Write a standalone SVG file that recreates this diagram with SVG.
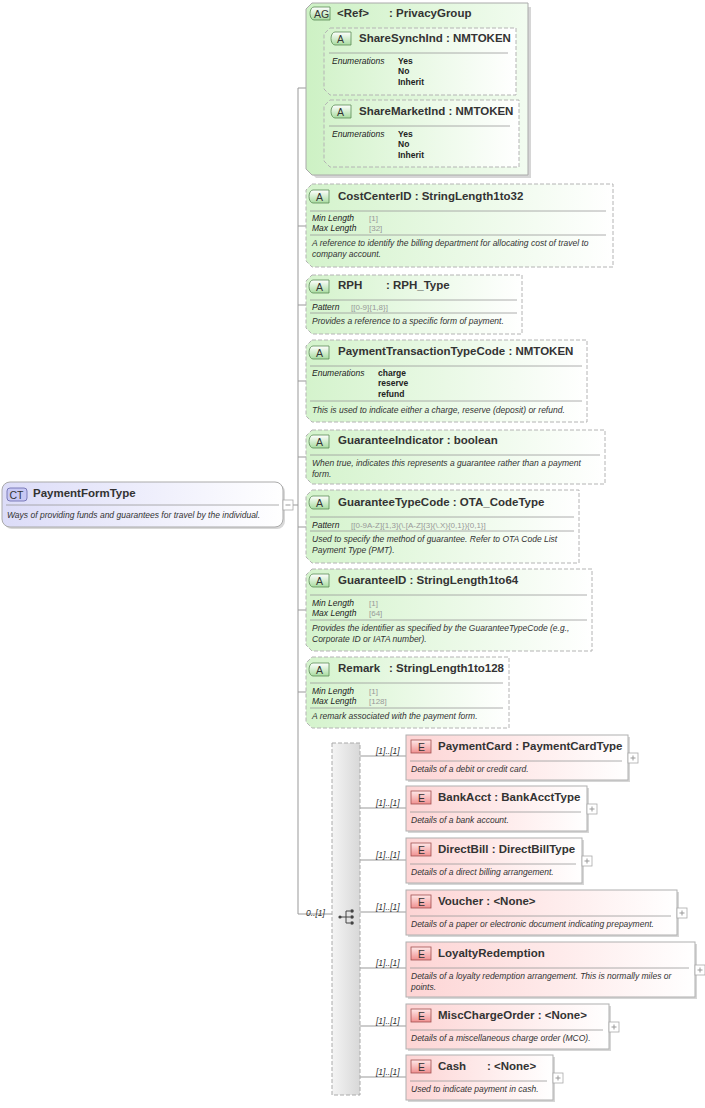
<svg xmlns="http://www.w3.org/2000/svg" width="705" height="1108" viewBox="0 0 705 1108">
<defs>
<linearGradient id="ga" x1="0" y1="0" x2="1" y2="0"><stop offset="0" stop-color="#d4f3cc"/><stop offset="1" stop-color="#ffffff"/></linearGradient>
<linearGradient id="gag" x1="0" y1="0" x2="1" y2="0"><stop offset="0" stop-color="#cdf1c4"/><stop offset="1" stop-color="#f2fcf0"/></linearGradient>
<linearGradient id="ge" x1="0" y1="0" x2="1" y2="0"><stop offset="0" stop-color="#fdd4d4"/><stop offset="1" stop-color="#ffffff"/></linearGradient>
<linearGradient id="gct" x1="0" y1="0" x2="1" y2="0"><stop offset="0" stop-color="#dcdcf8"/><stop offset="1" stop-color="#ffffff"/></linearGradient>
<linearGradient id="gch" x1="0" y1="0" x2="1" y2="0"><stop offset="0" stop-color="#f4f4f4"/><stop offset="1" stop-color="#d8d8d8"/></linearGradient>
<linearGradient id="gbA" x1="0" y1="0" x2="0" y2="1"><stop offset="0" stop-color="#ffffff"/><stop offset="1" stop-color="#a8dca0"/></linearGradient>
<linearGradient id="gbE" x1="0" y1="0" x2="0" y2="1"><stop offset="0" stop-color="#ffe8e8"/><stop offset="1" stop-color="#f09090"/></linearGradient>
</defs>
<style>
text{font-family:"Liberation Sans",Arial,sans-serif;fill:#222}
.t{font-size:11.5px;font-weight:bold;fill:#333}
.l{font-size:8.5px;font-style:italic}
.v{font-size:8px;fill:#999}
.en{font-size:8.5px;font-weight:bold;fill:#222}
.d{font-size:8.5px;font-style:italic;fill:#333}
.m{font-size:8.5px;font-style:italic;fill:#333}
.ab{fill:url(#ga);stroke:#b4b4b4;stroke-dasharray:4,2;stroke-width:1}
.sep{stroke:#999;stroke-width:0.8}
.c{stroke:#999;stroke-width:1;fill:none}
.eb{fill:url(#ge);stroke:#b0b0b0;stroke-width:1}
.sh{fill:#d6d6d6}
.bA{fill:url(#gbA);stroke:#5a8a55;stroke-width:0.8}
.bE{fill:url(#gbE);stroke:#a05050;stroke-width:0.8}
.bt{font-size:10.5px;fill:#333}
.x{fill:#fff;stroke:#aaa;stroke-width:0.8}
</style>

<g id="connectors">
<path class="c" d="M293,505 H298 M298,88 V914 M298,88 H306 M298,226 H306 M298,305 H306 M298,381 H306 M298,457 H306 M298,527 H306 M298,610 H306 M298,692 H306 M298,914 H332"/>
<path class="c" d="M324,60 H315 V133 H324 M306,95 H315"/>
<path class="c" d="M360,756 H406 M360,808 H406 M360,860 H406 M360,912 H406 M360,968 H406 M360,1026 H406 M360,1077 H406"/>
</g>
<g id="lbls">
<text class="m" x="306" y="916">0..[1]</text>
<text class="m" x="376" y="754">[1]..[1]</text>
<text class="m" x="376" y="806">[1]..[1]</text>
<text class="m" x="376" y="858">[1]..[1]</text>
<text class="m" x="376" y="910">[1]..[1]</text>
<text class="m" x="376" y="966">[1]..[1]</text>
<text class="m" x="376" y="1024">[1]..[1]</text>
<text class="m" x="376" y="1075">[1]..[1]</text>
</g>

<g id="PaymentFormType">
<rect x="4" y="484" width="281" height="45" rx="8" fill="#d8d8d8"/>
<rect x="2" y="482" width="281" height="45" rx="8" fill="url(#gct)" stroke="#aaa"/>
<rect x="7" y="488" width="20" height="13" rx="3" fill="#c8c8f4" stroke="#6666aa" stroke-width="0.8"/>
<text class="bt" x="9.5" y="498.5">CT</text>
<text class="t" x="33" y="497">PaymentFormType</text>
<line class="sep" x1="6" y1="505" x2="279" y2="505"/>
<text class="d" x="7" y="518">Ways of providing funds and guarantees for travel by the individual.</text>
<rect class="x" x="283" y="500" width="10" height="10"/><path d="M285.5,505 H290.5" stroke="#999"/>
</g>

<g id="PrivacyGroup">
<path class="sh" d="M310,7 L531,7 L531,178 L316,178 L310,172 Z"/>
<path d="M312,3 L528,3 L528,175 L312,175 L306,169 L306,9 Z" fill="url(#gag)" stroke="#aaa"/>
<path d="M314,7 h16 v13 h-16 a4,6.5 0 0 1 0,-13 Z" class="bA"/>
<text class="bt" x="314" y="17.5">AG</text>
<text class="t" x="337" y="17">&lt;Ref&gt;</text><text class="t" x="389" y="17">: PrivacyGroup</text>
<g id="ShareSynchInd">
<path class="ab" d="M330,28 L516,28 L516,95 L330,95 L324,89 L324,34 Z"/>
<path class="bA" d="M335,32 h16 v13 h-16 a4,6.5 0 0 1 0,-13 Z"/><text class="bt" x="337" y="42.5">A</text>
<text class="t" x="359" y="42">ShareSynchInd : NMTOKEN</text>
<line class="sep" x1="329" y1="53" x2="508" y2="53"/>
<text class="l" x="332" y="64">Enumerations</text>
<text class="en" x="398" y="64">Yes</text><text class="en" x="398" y="74">No</text><text class="en" x="398" y="85">Inherit</text>
</g>
<g id="ShareMarketInd">
<path class="ab" d="M330,100 L519,100 L519,167 L330,167 L324,161 L324,106 Z"/>
<path class="bA" d="M335,105 h16 v13 h-16 a4,6.5 0 0 1 0,-13 Z"/><text class="bt" x="337" y="115.5">A</text>
<text class="t" x="359" y="115">ShareMarketInd : NMTOKEN</text>
<line class="sep" x1="329" y1="126" x2="510" y2="126"/>
<text class="l" x="332" y="137">Enumerations</text>
<text class="en" x="398" y="137">Yes</text><text class="en" x="398" y="147">No</text><text class="en" x="398" y="158">Inherit</text>
</g>
</g>

<g id="CostCenterID">
<path class="ab" d="M312,184 L613,184 L613,267 L312,267 L306,261 L306,190 Z"/>
<path class="bA" d="M313,190 h16 v13 h-16 a4,6.5 0 0 1 0,-13 Z"/><text class="bt" x="316" y="200.5">A</text>
<text class="t" x="338" y="200">CostCenterID : StringLength1to32</text>
<line class="sep" x1="310" y1="211" x2="606" y2="211"/>
<text class="l" x="312" y="221">Min Length</text><text class="v" x="369" y="221">[1]</text>
<text class="l" x="312" y="231">Max Length</text><text class="v" x="369" y="231">[32]</text>
<line class="sep" x1="310" y1="235" x2="606" y2="235"/>
<text class="d" x="312" y="246">A reference to identify the billing department for allocating cost of travel to</text>
<text class="d" x="312" y="257">company account.</text>
</g>

<g id="RPH">
<path class="ab" d="M312,275 L522,275 L522,334 L312,334 L306,328 L306,281 Z"/>
<path class="bA" d="M313,280 h16 v13 h-16 a4,6.5 0 0 1 0,-13 Z"/><text class="bt" x="316" y="290.5">A</text>
<text class="t" x="338" y="289">RPH</text><text class="t" x="386" y="289">: RPH_Type</text>
<line class="sep" x1="310" y1="300" x2="517" y2="300"/>
<text class="l" x="312" y="310">Pattern</text><text class="v" x="351" y="310">[[0-9]{1,8}]</text>
<line class="sep" x1="310" y1="313" x2="517" y2="313"/>
<text class="d" x="312" y="324">Provides a reference to a specific form of payment.</text>
</g>

<g id="PaymentTransactionTypeCode">
<path class="ab" d="M312,340 L587,340 L587,422 L312,422 L306,416 L306,346 Z"/>
<path class="bA" d="M313,346 h16 v13 h-16 a4,6.5 0 0 1 0,-13 Z"/><text class="bt" x="316" y="356.5">A</text>
<text class="t" x="338" y="355">PaymentTransactionTypeCode : NMTOKEN</text>
<line class="sep" x1="310" y1="366" x2="582" y2="366"/>
<text class="l" x="312" y="376">Enumerations</text>
<text class="en" x="378" y="376">charge</text><text class="en" x="378" y="386">reserve</text><text class="en" x="378" y="397">refund</text>
<line class="sep" x1="310" y1="401" x2="582" y2="401"/>
<text class="d" x="312" y="413">This is used to indicate either a charge, reserve (deposit) or refund.</text>
</g>

<g id="GuaranteeIndicator">
<path class="ab" d="M312,430 L605,430 L605,484 L312,484 L306,478 L306,436 Z"/>
<path class="bA" d="M313,435 h16 v13 h-16 a4,6.5 0 0 1 0,-13 Z"/><text class="bt" x="316" y="445.5">A</text>
<text class="t" x="338" y="444">GuaranteeIndicator : boolean</text>
<line class="sep" x1="310" y1="455" x2="600" y2="455"/>
<text class="d" x="312" y="466">When true, indicates this represents a guarantee rather than a payment</text>
<text class="d" x="312" y="477">form.</text>
</g>

<g id="GuaranteeTypeCode">
<path class="ab" d="M312,490 L579,490 L579,563 L312,563 L306,557 L306,496 Z"/>
<path class="bA" d="M313,496 h16 v13 h-16 a4,6.5 0 0 1 0,-13 Z"/><text class="bt" x="316" y="506.5">A</text>
<text class="t" x="338" y="506">GuaranteeTypeCode : OTA_CodeType</text>
<line class="sep" x1="310" y1="517" x2="574" y2="517"/>
<text class="l" x="312" y="528">Pattern</text><text class="v" x="351" y="528">[[0-9A-Z]{1,3}(\.[A-Z]{3}(\.X){0,1}){0,1}]</text>
<line class="sep" x1="310" y1="531" x2="574" y2="531"/>
<text class="d" x="312" y="542">Used to specify the method of guarantee. Refer to OTA Code List</text>
<text class="d" x="312" y="553">Payment Type (PMT).</text>
</g>

<g id="GuaranteeID">
<path class="ab" d="M312,569 L592,569 L592,651 L312,651 L306,645 L306,575 Z"/>
<path class="bA" d="M313,574 h16 v13 h-16 a4,6.5 0 0 1 0,-13 Z"/><text class="bt" x="316" y="584.5">A</text>
<text class="t" x="338" y="584">GuaranteeID : StringLength1to64</text>
<line class="sep" x1="310" y1="595" x2="587" y2="595"/>
<text class="l" x="312" y="606">Min Length</text><text class="v" x="369" y="606">[1]</text>
<text class="l" x="312" y="616">Max Length</text><text class="v" x="369" y="616">[64]</text>
<line class="sep" x1="310" y1="620" x2="587" y2="620"/>
<text class="d" x="312" y="631">Provides the identifier as specified by the GuaranteeTypeCode (e.g.,</text>
<text class="d" x="312" y="642">Corporate ID or IATA number).</text>
</g>

<g id="Remark">
<path class="ab" d="M312,657 L509,657 L509,728 L312,728 L306,722 L306,663 Z"/>
<path class="bA" d="M313,663 h16 v13 h-16 a4,6.5 0 0 1 0,-13 Z"/><text class="bt" x="316" y="673.5">A</text>
<text class="t" x="338" y="672">Remark</text><text class="t" x="389" y="672">: StringLength1to128</text>
<line class="sep" x1="310" y1="683" x2="503" y2="683"/>
<text class="l" x="312" y="694">Min Length</text><text class="v" x="369" y="694">[1]</text>
<text class="l" x="312" y="704">Max Length</text><text class="v" x="369" y="704">[128]</text>
<line class="sep" x1="310" y1="708" x2="503" y2="708"/>
<text class="d" x="312" y="719">A remark associated with the payment form.</text>
</g>

<g id="choice">
<rect x="332" y="743" width="28" height="352" fill="url(#gch)" stroke="#aaa" stroke-dasharray="4,2"/>
<path d="M340,917 H346 M346,911 V923 M346,911 H350 M346,917 H350 M346,923 H350" stroke="#444" fill="none"/>
<circle cx="340" cy="917" r="1.6" fill="#444"/><circle cx="352" cy="911" r="1.8" fill="#444"/><circle cx="352" cy="917" r="1.8" fill="#444"/><circle cx="352" cy="923" r="1.8" fill="#444"/>
</g>

<g id="PaymentCard">
<rect class="sh" x="408" y="737" width="222" height="45"/>
<rect class="eb" x="406" y="735" width="222" height="45"/>
<rect class="bE" x="411" y="740" width="20" height="13"/><text class="bt" x="418" y="750.5">E</text>
<text class="t" x="438" y="750">PaymentCard : PaymentCardType</text>
<line class="sep" x1="410" y1="761" x2="622" y2="761"/>
<text class="d" x="411" y="772">Details of a debit or credit card.</text>
<rect class="x" x="628" y="753" width="10" height="10"/><path d="M630.5,758 H635.5 M633,755.5 V760.5" stroke="#999"/>
</g>
<g id="BankAcct">
<rect class="sh" x="408" y="788" width="181" height="45"/>
<rect class="eb" x="406" y="786" width="181" height="45"/>
<rect class="bE" x="411" y="791" width="20" height="13"/><text class="bt" x="418" y="801.5">E</text>
<text class="t" x="438" y="801">BankAcct : BankAcctType</text>
<line class="sep" x1="410" y1="812" x2="581" y2="812"/>
<text class="d" x="411" y="823">Details of a bank account.</text>
<rect class="x" x="587" y="804" width="10" height="10"/><path d="M589.5,809 H594.5 M592,806.5 V811.5" stroke="#999"/>
</g>
<g id="DirectBill">
<rect class="sh" x="408" y="840" width="176" height="45"/>
<rect class="eb" x="406" y="838" width="176" height="45"/>
<rect class="bE" x="411" y="843" width="20" height="13"/><text class="bt" x="418" y="853.5">E</text>
<text class="t" x="438" y="853">DirectBill : DirectBillType</text>
<line class="sep" x1="410" y1="864" x2="576" y2="864"/>
<text class="d" x="411" y="875">Details of a direct billing arrangement.</text>
<rect class="x" x="582" y="856" width="10" height="10"/><path d="M584.5,861 H589.5 M587,858.5 V863.5" stroke="#999"/>
</g>
<g id="Voucher">
<rect class="sh" x="408" y="892" width="271" height="45"/>
<rect class="eb" x="406" y="890" width="271" height="45"/>
<rect class="bE" x="411" y="895" width="20" height="13"/><text class="bt" x="418" y="905.5">E</text>
<text class="t" x="438" y="905">Voucher : &lt;None&gt;</text>
<line class="sep" x1="410" y1="916" x2="671" y2="916"/>
<text class="d" x="411" y="927">Details of a paper or electronic document indicating prepayment.</text>
<rect class="x" x="677" y="908" width="10" height="10"/><path d="M679.5,913 H684.5 M682,910.5 V915.5" stroke="#999"/>
</g>
<g id="LoyaltyRedemption">
<rect class="sh" x="408" y="944" width="289" height="55"/>
<rect class="eb" x="406" y="942" width="289" height="55"/>
<rect class="bE" x="411" y="947" width="20" height="13"/><text class="bt" x="418" y="957.5">E</text>
<text class="t" x="438" y="957">LoyaltyRedemption</text>
<line class="sep" x1="410" y1="968" x2="689" y2="968"/>
<text class="d" x="411" y="979">Details of a loyalty redemption arrangement. This is normally miles or</text>
<text class="d" x="411" y="990">points.</text>
<rect class="x" x="695" y="965" width="10" height="10"/><path d="M697.5,970 H702.5 M700,967.5 V972.5" stroke="#999"/>
</g>
<g id="MiscChargeOrder">
<rect class="sh" x="408" y="1006" width="203" height="45"/>
<rect class="eb" x="406" y="1004" width="203" height="45"/>
<rect class="bE" x="411" y="1009" width="20" height="13"/><text class="bt" x="418" y="1019.5">E</text>
<text class="t" x="438" y="1019">MiscChargeOrder : &lt;None&gt;</text>
<line class="sep" x1="410" y1="1030" x2="603" y2="1030"/>
<text class="d" x="411" y="1041">Details of a miscellaneous charge order (MCO).</text>
<rect class="x" x="609" y="1022" width="10" height="10"/><path d="M611.5,1027 H616.5 M614,1024.5 V1029.5" stroke="#999"/>
</g>
<g id="Cash">
<rect class="sh" x="408" y="1057" width="147" height="45"/>
<rect class="eb" x="406" y="1055" width="147" height="45"/>
<rect class="bE" x="411" y="1060" width="20" height="13"/><text class="bt" x="418" y="1070.5">E</text>
<text class="t" x="438" y="1070">Cash</text><text class="t" x="487" y="1070">: &lt;None&gt;</text>
<line class="sep" x1="410" y1="1081" x2="547" y2="1081"/>
<text class="d" x="411" y="1092">Used to indicate payment in cash.</text>
<rect class="x" x="553" y="1073" width="10" height="10"/><path d="M555.5,1078 H560.5 M558,1075.5 V1080.5" stroke="#999"/>
</g>
</svg>
